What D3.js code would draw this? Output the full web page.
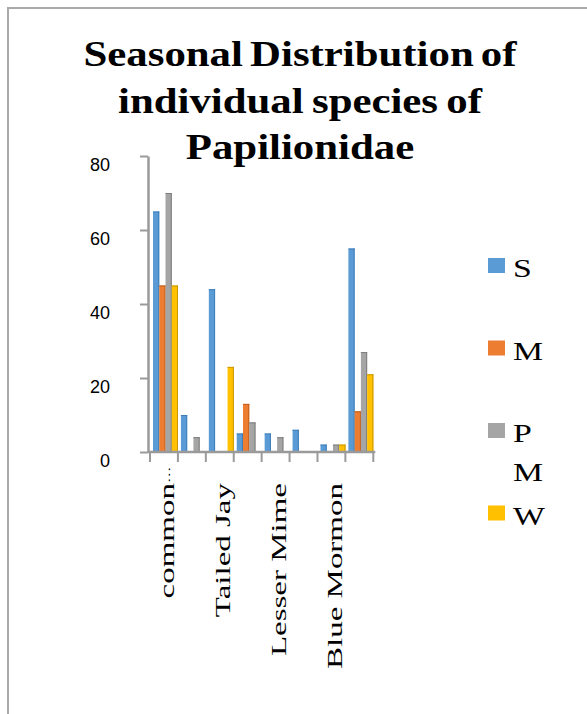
<!DOCTYPE html>
<html>
<head>
<meta charset="utf-8">
<script src="https://cdn.jsdelivr.net/npm/d3@7/dist/d3.min.js"></script>
<style>
  html, body { margin: 0; padding: 0; background: #fff; }
  svg { display: block; }
</style>
</head>
<body>
<svg id="chart" width="587" height="714"></svg>
<script>
// Papilionidae sightings per season
const categories = ["common Mormon", "Common Rose", "Tailed Jay", "Common Jay",
                    "Lesser Mime", "Lime Butterfly", "Blue Mormon", "Crimson Rose"];
const seasons = ["S", "M", "P M", "W"];
const sValues  = [65, 10, 44, 5, 5, 6, 2, 55];
const mValues  = [45, 0, 0, 13, 0, 0, 0, 11];
const pmValues = [70, 4, 0, 8, 4, 0, 2, 27];
const wValues  = [45, 0, 23, 0, 0, 0, 2, 21];
const yTicks = [0, 20, 40, 60, 80];
const titleLines = ["Seasonal Distribution of", "individual species of", "Papilionidae"];

const seriesValues = [sValues, mValues, pmValues, wValues];
const colors = d3.scaleOrdinal().domain(seasons).range(["#5b9bd5", "#ed7d31", "#a5a5a5", "#ffc000"]);
const edge = d3.scaleOrdinal().domain(seasons).range(["#3f7fb9", "#c35f1c", "#7e7e7e", "#c99700"]);

const svg = d3.select("#chart");
const serif = "'Liberation Serif', 'Times New Roman', serif";
const sans = "'Liberation Sans', Arial, sans-serif";

// outer frame (left and top edges)
svg.append("path")
  .attr("d", "M8,714V8H587")
  .attr("fill", "none").attr("stroke", "#a9a9a9").attr("stroke-width", 2);

// title
const title = svg.append("g");
titleLines.forEach((line, i) => {
  title.append("text")
    .attr("transform", `translate(300,${66 + i * 46.5}) scale(1.19,1)`)
    .attr("text-anchor", "middle")
    .attr("font-family", serif).attr("font-weight", "bold").attr("font-size", 36)
    .attr("word-spacing", i === 0 ? -3 : -2)
    .attr("fill", "#000")
    .text(line);
});

// scales
const x = d3.scaleBand().domain(categories).range([150, 373.3]).padding(0);
const sub = d3.scaleBand().domain(seasons).range([3, 28]).padding(0);
const y = d3.scaleLinear().domain([0, 80]).range([452, 156]);

// bars
const bars = svg.append("g");
categories.forEach((c, ci) => {
  seasons.forEach((s, si) => {
    const v = seriesValues[si][ci];
    if (!v) return;
    const bx = x(c) + sub(s), bw = sub.bandwidth(), by = y(v), bh = y(0) - y(v);
    bars.append("rect")
      .attr("x", bx).attr("y", by).attr("width", bw).attr("height", bh)
      .attr("fill", colors(s));
    bars.append("rect")
      .attr("x", bx + bw - 1).attr("y", by).attr("width", 1).attr("height", bh)
      .attr("fill", edge(s));
    bars.append("rect")
      .attr("x", bx).attr("y", by).attr("width", bw).attr("height", 1)
      .attr("fill", edge(s));
  });
});

// y axis
const yAxis = svg.append("g")
  .attr("transform", "translate(148,0)")
  .call(d3.axisLeft(y).tickValues(yTicks).tickSizeInner(8).tickSizeOuter(0).tickPadding(30));
yAxis.select(".domain").attr("stroke", "#9a9a9a").attr("stroke-width", 2.5);
yAxis.selectAll(".tick line").attr("stroke", "#9a9a9a").attr("stroke-width", 2);
yAxis.selectAll(".tick text")
  .attr("font-family", sans).attr("font-size", 18).attr("fill", "#000")
  .attr("y", 8.5);

// x axis baseline and category boundary ticks
const xAxis = svg.append("g");
xAxis.append("line")
  .attr("x1", x.range()[0] - 2).attr("x2", x.range()[1] + 2)
  .attr("y1", y(0)).attr("y2", y(0))
  .attr("stroke", "#9a9a9a").attr("stroke-width", 2.5);
xAxis.selectAll("line.tick")
  .data(d3.range(categories.length + 1))
  .join("line").attr("class", "tick")
  .attr("x1", i => x.range()[0] + i * x.step())
  .attr("x2", i => x.range()[0] + i * x.step())
  .attr("y1", y(0)).attr("y2", y(0) + 10)
  .attr("stroke", "#9a9a9a").attr("stroke-width", 2);

// category labels: every other category, rotated
const maxChars = 11;
categories.forEach((c, ci) => {
  if (ci % 2 !== 0) return;
  const truncated = c.length > maxChars;
  const label = truncated ? c.split(" ")[0] : c;
  const g = svg.append("g")
    .attr("transform", `translate(${x(c) + x.bandwidth() / 2 + 3},483) rotate(-90) scale(1.5,1)`);
  g.append("text")
    .attr("text-anchor", "end").attr("dominant-baseline", "central")
    .attr("font-family", serif).attr("font-size", 22).attr("fill", "#000")
    .text(label);
  if (truncated) {
    g.append("text")
      .attr("text-anchor", "start").attr("dominant-baseline", "central")
      .attr("font-family", serif).attr("font-size", 11).attr("fill", "#000")
      .text("…");
  }
});

// legend
const legend = svg.append("g");
seasons.forEach((s, i) => {
  const top = 258 + i * 82.5;
  legend.append("rect")
    .attr("x", 488).attr("y", top).attr("width", 17).attr("height", 15)
    .attr("fill", colors(s));
  s.split(" ").forEach((part, j) => {
    legend.append("text")
      .attr("transform", `translate(513,${top + 19 + j * 39}) scale(1.3,1)`)
      .attr("font-family", serif).attr("font-size", 26).attr("fill", "#000")
      .text(part);
  });
});
</script>
</body>
</html>
